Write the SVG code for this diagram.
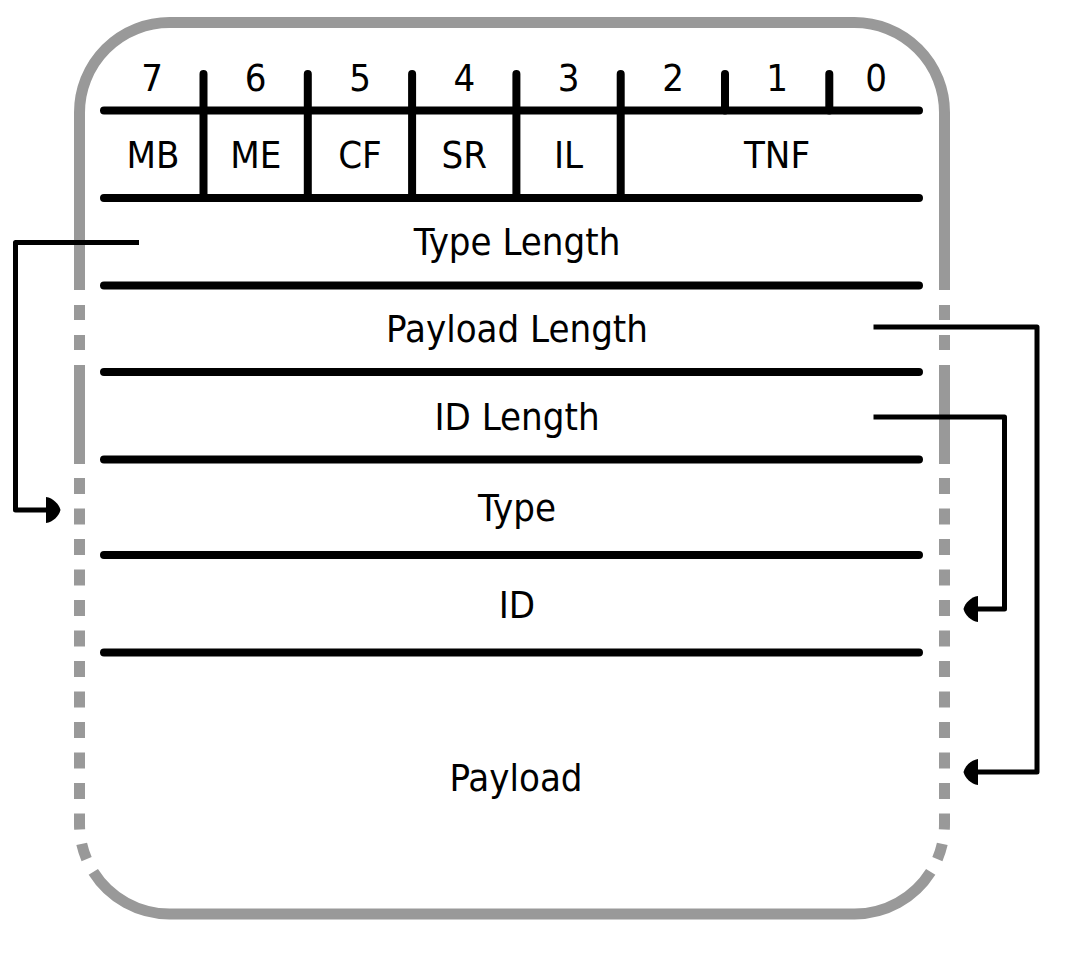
<svg xmlns="http://www.w3.org/2000/svg" width="1072" height="960" viewBox="0 0 1072 960">
<style>
.frame{fill:none;stroke:#999999;stroke-width:11}
.d1{stroke-dasharray:15 15;stroke-dashoffset:15}
.d2{stroke-dasharray:16 14.5;stroke-dashoffset:16.5}
.rule{stroke:#000;stroke-width:8;stroke-linecap:round;fill:none}
.t{font-family:"DejaVu Sans Condensed","DejaVu Sans",sans-serif;font-stretch:semi-condensed;font-size:38px;text-anchor:middle;fill:#000}
.conn{fill:none;stroke:#000;stroke-width:5;stroke-linejoin:round}
</style>
<defs>
<marker id="ah" markerUnits="userSpaceOnUse" viewBox="0 -14 16 28" markerWidth="16" markerHeight="28" refX="0" refY="0" orient="auto" overflow="visible">
<path d="M0,-13 C7,-12 13,-6 14.5,0 C13,6 7,12 0,13 Z" fill="#000"/>
</marker>
</defs>
<rect width="1072" height="960" fill="#fff"/>
<g id="frame">
<path class="frame" d="M79.5,290 V112.5 A90,90 0 0 1 169.5,22.5 H854.5 A90,90 0 0 1 944.5,112.5 V290"/>
<path class="frame d1" d="M79.5,290 V365"/>
<path class="frame d1" d="M944.5,290 V365"/>
<path class="frame" d="M79.5,365 V464 M944.5,365 V464"/>
<path class="frame d2" d="M79.5,464 V824 A90,90 0 0 0 93.3,871.9"/>
<path class="frame d2" d="M944.5,464 V824 A90,90 0 0 1 930.7,871.9"/>
<path class="frame" d="M93.3,871.9 A90,90 0 0 0 169.5,914 H854.5 A90,90 0 0 0 930.7,871.9"/>
</g>
<g id="rules">
<path class="rule" d="M104,110.5 H919 M104,198 H919 M104,285.5 H919 M104,372 H919 M104,459.5 H919 M104,555 H919 M104,652.5 H919"/>
<path class="rule" d="M203.5,74 V198 M307.8,74 V198 M412.1,74 V198 M516.4,74 V198 M620.7,74 V198 M725,74 V110.5 M829.3,74 V110.5"/>
</g>
<g id="bit-numbers">
<text class="t" x="152" y="90.5">7</text>
<text class="t" x="255.7" y="90.5">6</text>
<text class="t" x="360" y="90.5">5</text>
<text class="t" x="464.3" y="90.5">4</text>
<text class="t" x="568.5" y="90.5">3</text>
<text class="t" x="673" y="90.5">2</text>
<text class="t" x="777" y="90.5">1</text>
<text class="t" x="876" y="90.5">0</text>
</g>
<g id="field-MB"><text class="t" x="153" y="168">MB</text></g>
<g id="field-ME"><text class="t" x="255.7" y="168">ME</text></g>
<g id="field-CF"><text class="t" x="360" y="168">CF</text></g>
<g id="field-SR"><text class="t" x="464.3" y="168">SR</text></g>
<g id="field-IL"><text class="t" x="568.5" y="168">IL</text></g>
<g id="field-TNF"><text class="t" x="777" y="168">TNF</text></g>
<g id="field-type-length"><text class="t" x="517" y="255">Type Length</text></g>
<g id="field-payload-length"><text class="t" x="517" y="342">Payload Length</text></g>
<g id="field-id-length"><text class="t" x="517" y="429.5">ID Length</text></g>
<g id="field-type"><text class="t" x="517" y="521">Type</text></g>
<g id="field-id"><text class="t" x="517" y="617.5">ID</text></g>
<g id="field-payload"><text class="t" x="516" y="790.5">Payload</text></g>
<g id="connectors">
<path class="conn" d="M139,242.5 H15.5 V510 H46" marker-end="url(#ah)"/>
<path class="conn" d="M873.5,417 H1004.5 V609 H978" marker-end="url(#ah)"/>
<path class="conn" d="M873.5,327 H1037 V772 H978" marker-end="url(#ah)"/>
</g>
</svg>
